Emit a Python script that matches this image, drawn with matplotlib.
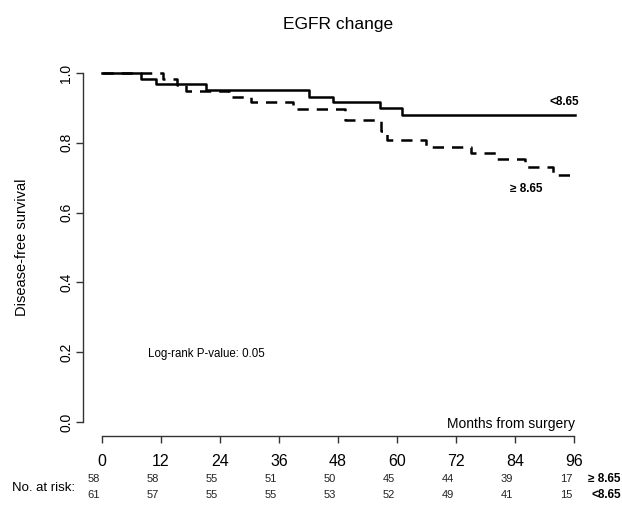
"""
Kaplan-Meier style disease-free survival chart for EGFR change groups,
with a number-at-risk table under the time axis.
"""

import matplotlib

matplotlib.use("Agg")
import matplotlib.pyplot as plt
from matplotlib.ticker import FormatStrFormatter
from matplotlib.transforms import ScaledTranslation, blended_transform_factory

plt.rcParams["font.family"] = ["Liberation Sans", "DejaVu Sans"]

# Survival steps (months, survival probability).
low_months = [0, 7.9, 10.9, 21.1, 42.1, 46.9, 56.5, 61.1, 96.2]
low_surv = [1.0, 0.984, 0.967, 0.951, 0.932, 0.916, 0.899, 0.880, 0.880]

high_months = [0, 12.5, 15.3, 17.2, 25.9, 30.4, 38.9, 49.4, 56.8, 58.0,
               65.9, 75.0, 80.3, 86.0, 91.8, 96.2]
high_surv = [1.0, 0.983, 0.966, 0.948, 0.932, 0.916, 0.896, 0.866, 0.835,
             0.808, 0.787, 0.770, 0.754, 0.732, 0.708, 0.708]

# Number-at-risk table.
risk_months = [0, 12, 24, 36, 48, 60, 72, 84, 96]
risk_high = [58, 58, 55, 51, 50, 45, 44, 39, 17]
risk_low = [61, 57, 55, 55, 53, 52, 49, 41, 15]

y_ticks = [0.0, 0.2, 0.4, 0.6, 0.8, 1.0]

W, H = 622, 505
fig = plt.figure(figsize=(W / 100, H / 100), dpi=100)
# Plot region in pixels: left 83, right 593, top 59, bottom 436.
ax = fig.add_axes([83 / W, (H - 436) / H, (593 - 83) / W, (436 - 59) / H])

ax.step(low_months, low_surv, where="post", color="black", lw=1.8)
ax.step(high_months, high_surv, where="post", color="black", lw=1.8,
        dashes=(4.5, 3.2))

# R-style axes: 4% padding, detached spines limited to the data range.
ax.set_xlim(-3.84, 99.84)
ax.set_ylim(-0.04, 1.04)
for side in ("top", "right"):
    ax.spines[side].set_visible(False)
ax.spines["left"].set_bounds(0, 1)
ax.spines["bottom"].set_bounds(0, 96)
for side in ("left", "bottom"):
    ax.spines[side].set_color("#333333")
    ax.spines[side].set_linewidth(1.0)

ax.set_xticks(risk_months)
ax.set_yticks(y_ticks)
ax.yaxis.set_major_formatter(FormatStrFormatter("%.1f"))
ax.tick_params(axis="x", length=5, width=1.0, color="#333333", pad=8,
               labelsize=11.5)
ax.tick_params(axis="y", length=5, width=1.0, color="#333333", pad=2,
               labelsize=10)
for lab in ax.get_yticklabels():
    lab.set_rotation(90)
    lab.set_va("center")

ax.set_ylabel("Disease-free survival", fontsize=10.5)
ax.yaxis.set_label_coords(-0.105, 0.5)

fig.text((83 + 593) / 2 / W, 1 - 24 / H, "EGFR change", ha="center",
         va="center", fontsize=12.5)

# Labels inside the plot.
ax.text(97.0, 0.917, "<8.65", ha="right", va="center", fontsize=8.5,
        fontweight="bold")
ax.text(86.2, 0.668, "\u2265 8.65", ha="center", va="center", fontsize=8.5,
        fontweight="bold")
ax.text(9.4, 0.195, "Log-rank P-value: 0.05", ha="left", va="center",
        fontsize=8.3)
ax.text(96.2, -0.006, "Months from surgery", ha="right", va="center",
        fontsize=10)

# Number-at-risk rows, slightly left of each tick.
trans = blended_transform_factory(ax.transData, fig.transFigure)
shift = trans + ScaledTranslation(-8 / 100, 0, fig.dpi_scale_trans)
row_y = [1 - 479 / H, 1 - 495 / H]
for month, n_high, n_low in zip(risk_months, risk_high, risk_low):
    ax.text(month, row_y[0], str(n_high), transform=shift, ha="center",
            va="center", fontsize=8, color="#222222")
    ax.text(month, row_y[1], str(n_low), transform=shift, ha="center",
            va="center", fontsize=8, color="#222222")

fig.text(12 / W, 1 - 488 / H, "No. at risk:", ha="left", va="center",
         fontsize=9.5)
fig.text(621 / W, row_y[0], "\u2265 8.65", ha="right", va="center",
         fontsize=8.5, fontweight="bold")
fig.text(621 / W, row_y[1], "<8.65", ha="right", va="center", fontsize=8.5,
         fontweight="bold")

fig.savefig("out.png", dpi=100)
plt.close(fig)
